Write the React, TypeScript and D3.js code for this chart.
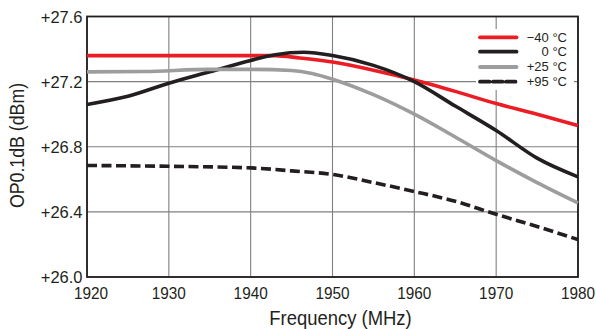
import React from "react";
import * as d3 from "d3";

const freqRed = [1920, 1930, 1940, 1943, 1946, 1950, 1955, 1960, 1965, 1970, 1975, 1980];
const valRed = [27.36, 27.36, 27.36, 27.36, 27.345, 27.32, 27.27, 27.21, 27.14, 27.065, 27.0, 26.93];

const freqBlack = [1920, 1925, 1930, 1935, 1940, 1943, 1946.5, 1950, 1955, 1960, 1965, 1970, 1975, 1980];
const valBlack = [27.06, 27.11, 27.19, 27.26, 27.33, 27.365, 27.38, 27.36, 27.3, 27.2, 27.05, 26.9, 26.73, 26.615];

const freqGray = [1920, 1927, 1935, 1940, 1945, 1947.5, 1950, 1955, 1960, 1965, 1970, 1975, 1980];
const valGray = [27.26, 27.262, 27.275, 27.275, 27.268, 27.25, 27.215, 27.12, 27.0, 26.86, 26.715, 26.58, 26.455];

const freqHot = [1920, 1930, 1940, 1945, 1950, 1955, 1960, 1965, 1970, 1975, 1980];
const valHot = [26.685, 26.68, 26.67, 26.652, 26.63, 26.58, 26.525, 26.465, 26.385, 26.31, 26.23];

const xTicks = [1920, 1930, 1940, 1950, 1960, 1970, 1980];
const yTicks = [26.0, 26.4, 26.8, 27.2, 27.6];
const seriesNames = ["\u221240 \u00b0C", "0 \u00b0C", "+25 \u00b0C", "+95 \u00b0C"];

const FONT = "'Liberation Sans', Arial, Helvetica, sans-serif";
const INK = "#231f20";

function T(props: { x: number; y: number; size: number; sx?: number; anchor?: string; rot?: number; children: React.ReactNode }) {
  const { x, y, size, sx = 1, anchor = "middle", rot = 0, children } = props;
  return (
    <text
      transform={`translate(${x},${y}) rotate(${rot}) scale(${sx},1)`}
      textAnchor={anchor}
      fontFamily={FONT}
      fontSize={size}
      fill={INK}
    >
      {children}
    </text>
  );
}

export default function App() {
  const W = 596, H = 329;
  const left = 87, right = 578, top = 16.5, bottom = 277;
  const x = d3.scaleLinear().domain([1920, 1980]).range([left, right]);
  const y = d3.scaleLinear().domain([26.0, 27.6]).range([bottom, top]);
  const line = d3.line<[number, number]>()
    .x((d) => x(d[0]))
    .y((d) => y(d[1]))
    .curve(d3.curveMonotoneX);
  const mk = (f: number[], v: number[]) => line(f.map((d, i) => [d, v[i]] as [number, number])) || "";

  const series = [
    { d: mk(freqRed, valRed), color: "#ec1c24", dash: "" },
    { d: mk(freqBlack, valBlack), color: INK, dash: "" },
    { d: mk(freqGray, valGray), color: "#9d9d9d", dash: "" },
    { d: mk(freqHot, valHot), color: INK, dash: "10,4.5" },
  ];

  const legX = 476, legW = 98, legY = 29, legH = 61;
  const rowY = [37.3, 51.7, 67, 81.7];
  const rowBase = [41.8, 56.4, 71, 85.6];

  return (
    <svg width={W} height={H} style={{ position: "absolute", left: 0, top: 0, background: "#fff" }}>
      <rect x={0} y={0} width={W} height={H} fill="#fff" />
      {xTicks.map((t) => (
        <line key={"gx" + t} x1={x(t)} x2={x(t)} y1={top} y2={bottom} stroke="#808080" strokeWidth={1.1} />
      ))}
      {yTicks.map((t) => (
        <line key={"gy" + t} x1={left} x2={right} y1={y(t)} y2={y(t)} stroke="#808080" strokeWidth={1.1} />
      ))}
      <rect x={legX} y={legY} width={legW} height={legH} fill="#fff" />
      <rect x={left} y={top} width={right - left} height={bottom - top} fill="none" stroke={INK} strokeWidth={1.8} />
      {series.map((s, i) => (
        <path key={i} d={s.d} fill="none" stroke={s.color} strokeWidth={3.6} strokeDasharray={s.dash || undefined} strokeLinecap="butt" />
      ))}
      {series.map((s, i) => (
        <line key={"l" + i} x1={480} x2={516.5} y1={rowY[i]} y2={rowY[i]} stroke={s.color} strokeWidth={3.8}
          strokeDasharray={s.dash ? "9.5,3.5" : undefined} strokeLinecap="round" />
      ))}
      <text fontFamily={FONT} fontSize={13} fill={INK} textAnchor="end">
        {seriesNames.map((n, i) => (
          <tspan key={i} x={567} y={rowBase[i]}>{n}</tspan>
        ))}
      </text>
      {yTicks.map((t) => (
        <T key={"ty" + t} x={82.5} y={y(t) + 6.3} size={16.5} anchor="end">{"+" + t.toFixed(1)}</T>
      ))}
      {xTicks.map((t, i) => (
        <T key={"tx" + t} x={i === 0 ? x(t) + 4 : x(t)} y={298.5} size={16.5} sx={0.93}>{String(t)}</T>
      ))}
      <T x={340.5} y={324.5} size={20.5} sx={0.9}>Frequency (MHz)</T>
      <T x={24} y={145.5} size={19.5} sx={0.91} rot={-90}>OP0.1dB (dBm)</T>
    </svg>
  );
}
